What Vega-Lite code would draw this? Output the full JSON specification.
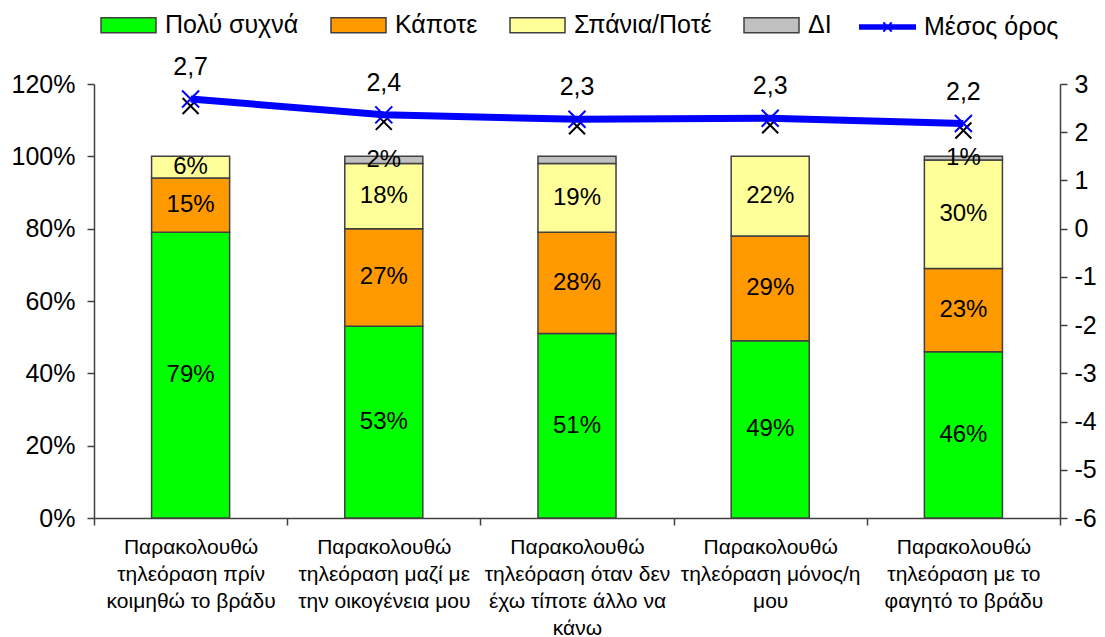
{
  "$schema": "https://vega.github.io/schema/vega-lite/v6.json",
  "width": 966,
  "height": 434,
  "autosize": {"type": "none"},
  "padding": {"left": 94, "top": 84, "right": 45, "bottom": 119},
  "background": "white",
  "config": {
    "locale": {"number": {"decimal": ",", "thousands": ".", "grouping": [3], "currency": ["", " €"], "minus": "-"}},
    "font": "Liberation Sans",
    "view": {"stroke": null},
    "axis": {"domainColor": "#404040", "tickColor": "#404040", "labelColor": "#000000", "labelFont": "Liberation Sans", "labelFontSize": 25, "grid": false, "domainWidth": 1.5, "tickWidth": 1.5, "tickSize": 7, "title": null},
    "text": {"font": "Liberation Sans", "color": "#000000"}
  },
  "datasets": {
    "bars": [
      {"cat": "Παρακολουθώ|τηλεόραση πρίν|κοιμηθώ το βράδυ", "resp": "Πολύ συχνά", "ord": 1, "value": 0.79, "label": "79%"},
      {"cat": "Παρακολουθώ|τηλεόραση πρίν|κοιμηθώ το βράδυ", "resp": "Κάποτε", "ord": 2, "value": 0.15, "label": "15%"},
      {"cat": "Παρακολουθώ|τηλεόραση πρίν|κοιμηθώ το βράδυ", "resp": "Σπάνια/Ποτέ", "ord": 3, "value": 0.06, "label": "6%"},
      {"cat": "Παρακολουθώ|τηλεόραση μαζί με|την οικογένεια μου", "resp": "Πολύ συχνά", "ord": 1, "value": 0.53, "label": "53%"},
      {"cat": "Παρακολουθώ|τηλεόραση μαζί με|την οικογένεια μου", "resp": "Κάποτε", "ord": 2, "value": 0.27, "label": "27%"},
      {"cat": "Παρακολουθώ|τηλεόραση μαζί με|την οικογένεια μου", "resp": "Σπάνια/Ποτέ", "ord": 3, "value": 0.18, "label": "18%"},
      {"cat": "Παρακολουθώ|τηλεόραση μαζί με|την οικογένεια μου", "resp": "ΔΙ", "ord": 4, "value": 0.02, "label": "2%"},
      {"cat": "Παρακολουθώ|τηλεόραση όταν δεν|έχω τίποτε άλλο να|κάνω", "resp": "Πολύ συχνά", "ord": 1, "value": 0.51, "label": "51%"},
      {"cat": "Παρακολουθώ|τηλεόραση όταν δεν|έχω τίποτε άλλο να|κάνω", "resp": "Κάποτε", "ord": 2, "value": 0.28, "label": "28%"},
      {"cat": "Παρακολουθώ|τηλεόραση όταν δεν|έχω τίποτε άλλο να|κάνω", "resp": "Σπάνια/Ποτέ", "ord": 3, "value": 0.19, "label": "19%"},
      {"cat": "Παρακολουθώ|τηλεόραση όταν δεν|έχω τίποτε άλλο να|κάνω", "resp": "ΔΙ", "ord": 4, "value": 0.02, "label": ""},
      {"cat": "Παρακολουθώ|τηλεόραση μόνος/η|μου", "resp": "Πολύ συχνά", "ord": 1, "value": 0.49, "label": "49%"},
      {"cat": "Παρακολουθώ|τηλεόραση μόνος/η|μου", "resp": "Κάποτε", "ord": 2, "value": 0.29, "label": "29%"},
      {"cat": "Παρακολουθώ|τηλεόραση μόνος/η|μου", "resp": "Σπάνια/Ποτέ", "ord": 3, "value": 0.22, "label": "22%"},
      {"cat": "Παρακολουθώ|τηλεόραση με το|φαγητό το βράδυ", "resp": "Πολύ συχνά", "ord": 1, "value": 0.46, "label": "46%"},
      {"cat": "Παρακολουθώ|τηλεόραση με το|φαγητό το βράδυ", "resp": "Κάποτε", "ord": 2, "value": 0.23, "label": "23%"},
      {"cat": "Παρακολουθώ|τηλεόραση με το|φαγητό το βράδυ", "resp": "Σπάνια/Ποτέ", "ord": 3, "value": 0.30, "label": "30%"},
      {"cat": "Παρακολουθώ|τηλεόραση με το|φαγητό το βράδυ", "resp": "ΔΙ", "ord": 4, "value": 0.01, "label": "1%"}
    ],
    "means": [
      {"cat": "Παρακολουθώ|τηλεόραση πρίν|κοιμηθώ το βράδυ", "mean": 2.69},
      {"cat": "Παρακολουθώ|τηλεόραση μαζί με|την οικογένεια μου", "mean": 2.36},
      {"cat": "Παρακολουθώ|τηλεόραση όταν δεν|έχω τίποτε άλλο να|κάνω", "mean": 2.27},
      {"cat": "Παρακολουθώ|τηλεόραση μόνος/η|μου", "mean": 2.29},
      {"cat": "Παρακολουθώ|τηλεόραση με το|φαγητό το βράδυ", "mean": 2.18}
    ]
  },
  "layer": [
    {
      "data": {"name": "bars"},
      "encoding": {
        "x": {"field": "cat", "type": "nominal", "sort": null,
          "scale": {"paddingInner": 0, "paddingOuter": 0},
          "axis": {"labelExpr": "split(datum.label, '|')", "labelFontSize": 21, "labelLineHeight": 27, "labelPadding": 11, "labelAngle": 0, "tickBand": "extent", "labelLimit": 0}}
      },
      "layer": [
        {
          "mark": {"type": "bar", "stroke": "#404040", "strokeWidth": 1.5, "width": {"band": 0.404}},
          "encoding": {
            "y": {"field": "value", "type": "quantitative", "stack": "zero",
              "scale": {"domain": [0, 1.2], "nice": false},
              "axis": {"orient": "left", "values": [0, 0.2, 0.4, 0.6, 0.8, 1.0, 1.2], "format": ".0%", "labelPadding": 12}},
            "order": {"field": "ord", "type": "quantitative"},
            "color": {"field": "resp", "type": "nominal",
              "sort": ["Πολύ συχνά", "Κάποτε", "Σπάνια/Ποτέ", "ΔΙ"],
              "scale": {"domain": ["Πολύ συχνά", "Κάποτε", "Σπάνια/Ποτέ", "ΔΙ"], "range": ["#00FF00", "#FF9900", "#FFFF99", "#C0C0C0"]},
              "legend": {"orient": "none", "legendX": 6, "legendY": -87.5, "direction": "horizontal", "title": null,
                "symbolType": "M-1,-0.27H1V0.27H-1Z", "symbolSize": 3025, "symbolStrokeColor": "#404040", "symbolStrokeWidth": 1.5,
                "labelFontSize": 25, "labelFont": "Liberation Sans", "labelColor": "#000000", "labelOffset": 8, "columnPadding": 29, "padding": 0, "labelLimit": 400}}
          }
        },
        {
          "mark": {"type": "text", "fontSize": 24, "baseline": "middle", "align": "center"},
          "encoding": {
            "y": {"field": "value", "type": "quantitative", "stack": "zero", "bandPosition": 0.5},
            "order": {"field": "ord", "type": "quantitative"},
            "detail": {"field": "resp"},
            "text": {"field": "label"}
          }
        }
      ]
    },
    {
      "data": {"name": "means"},
      "encoding": {
        "x": {"field": "cat", "type": "nominal", "sort": null,
          "scale": {"paddingInner": 0, "paddingOuter": 0},
          "axis": {"labelExpr": "split(datum.label, '|')", "labelFontSize": 21, "labelLineHeight": 27, "labelPadding": 11, "labelAngle": 0, "tickBand": "extent", "labelLimit": 0}},
        "y": {"field": "mean", "type": "quantitative",
          "scale": {"domain": [-6, 3], "nice": false, "zero": false},
          "axis": {"orient": "right", "values": [-6, -5, -4, -3, -2, -1, 0, 1, 2, 3], "format": "d", "labelPadding": 7}}
      },
      "layer": [
        {
          "mark": {"type": "point", "shape": "M-1,-1L1,1M-1,1L1,-1", "filled": false, "stroke": "#000000", "strokeWidth": 2, "size": 256, "opacity": 1, "yOffset": 7}
        },
        {
          "mark": {"type": "line", "strokeWidth": 7},
          "encoding": {
            "stroke": {"datum": "Μέσος όρος", "type": "nominal",
              "scale": {"domain": ["Μέσος όρος"], "range": ["#0000FF"]},
              "legend": {"orient": "none", "legendX": 765, "legendY": -85.5, "title": null,
                "symbolType": "M-1,-0.065H1V0.065H-1Z M-0.15,-0.17L0.15,0.17 M-0.15,0.17L0.15,-0.17", "symbolSize": 3025,
                "symbolStrokeColor": "#0000FF", "symbolFillColor": "#0000FF", "symbolStrokeWidth": 2,
                "labelFontSize": 25, "labelFont": "Liberation Sans", "labelColor": "#000000", "labelOffset": 8, "padding": 0, "labelLimit": 400,
                "encode": {"symbols": {"update": {"fill": {"value": "#0000FF"}, "stroke": {"value": "#0000FF"}, "strokeWidth": {"value": 2}}}}}
            }
          }
        },
        {
          "mark": {"type": "point", "shape": "M-1,-1L1,1M-1,1L1,-1", "filled": false, "stroke": "#0000FF", "strokeWidth": 2, "size": 289, "opacity": 1}
        },
        {
          "mark": {"type": "text", "fontSize": 25, "dy": -32, "align": "center", "baseline": "middle"},
          "encoding": {"text": {"field": "mean", "type": "quantitative", "format": ".1f"}}
        }
      ]
    }
  ],
  "resolve": {"scale": {"y": "independent"}}
}
